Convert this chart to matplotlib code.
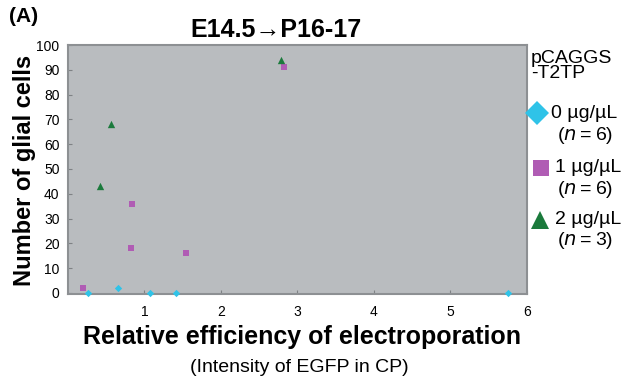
import matplotlib
matplotlib.use("Agg")
import matplotlib.pyplot as plt

plt.rcParams['font.family'] = ['Liberation Sans', 'DejaVu Sans']

# Data
x0 = [0.27, 0.66, 1.08, 1.42, 5.75]   # 0 ug/uL
y0 = [0, 2, 0, 0, 0]
x1 = [0.20, 0.82, 0.84, 1.54, 2.82]   # 1 ug/uL
y1 = [2, 18, 36, 16, 91]
x2 = [0.42, 0.57, 2.79]               # 2 ug/uL
y2 = [43, 68, 94]

xticks = [1, 2, 3, 4, 5, 6]
yticks = [0, 10, 20, 30, 40, 50, 60, 70, 80, 90, 100]
legend_labels = ["0 µg/µL", "1 µg/µL", "2 µg/µL"]
legend_n = ["6", "6", "3"]

c0 = "#2fc3e8"
c1 = "#b05cb4"
c2 = "#1b7a3c"

fig = plt.figure(figsize=(6.28, 3.79), dpi=100)
ax = fig.add_axes([0.108, 0.224, 0.731, 0.657])
ax.set_facecolor("#b9bcbf")
ax.scatter(x0, y0, marker='D', s=14, color=c0, zorder=3, clip_on=False, linewidths=0)
ax.scatter(x1, y1, marker='s', s=22, color=c1, zorder=3, clip_on=False, linewidths=0)
ax.scatter(x2, y2, marker='^', s=28, color=c2, zorder=3, clip_on=False, linewidths=0)

ax.set_xlim(0, 6)
ax.set_ylim(-0.5, 100)
ax.set_xticks(xticks)
ax.set_yticks(yticks)
ax.tick_params(axis='both', direction='in', length=3, color='#7f8285', labelsize=10)
ax.tick_params(axis='y', pad=6)
ax.tick_params(axis='x', pad=8)
for s in ax.spines.values():
    s.set_color('#8d9093')
    s.set_linewidth(1.5)

fig.text(276/628, 1 - 30/379, "E14.5\u2192P16-17", ha='center', va='center', fontsize=18, fontweight='bold')
fig.text(0.015, 1 - 17/379, "(A)", ha='left', va='center', fontsize=15, fontweight='bold')
fig.text(25/628, 1 - 170/379, "Number of glial cells", ha='center', va='center', rotation=90, fontsize=17, fontweight='bold')
fig.text(302/628, 1 - 337/379, "Relative efficiency of electroporation", ha='center', va='center', fontsize=18, fontweight='bold')
fig.text(299/628, 1 - 367/379, "(Intensity of EGFP in CP)", ha='center', va='center', fontsize=14)

fig.text(531/628, 1 - 66/379, "pCAGGS\n-T2TP", ha='left', va='center', fontsize=14, linespacing=0.8)

mk = ['D', 's', '^']
cols = [c0, c1, c2]
ys = [1 - 113/379, 1 - 168/379, 1 - 220/379]
nys = [1 - 135/379, 1 - 190/379, 1 - 240/379]
mx = [537/628, 541/628, 540/628]
sizes = [12, 12, 13]
tx = [551/628, 555/628, 555/628]
for i in range(3):
    fig.lines.append(plt.Line2D([mx[i]], [ys[i]], marker=mk[i], markersize=sizes[i], color=cols[i],
                                markeredgewidth=0, transform=fig.transFigure))
    fig.text(tx[i], ys[i], legend_labels[i], ha='left', va='center', fontsize=14)
    fig.text(585/628, nys[i], "($\\it{n}$\u2009=\u2009" + legend_n[i] + ")", ha='center', va='center', fontsize=14)

fig.savefig("out.png", dpi=100)
